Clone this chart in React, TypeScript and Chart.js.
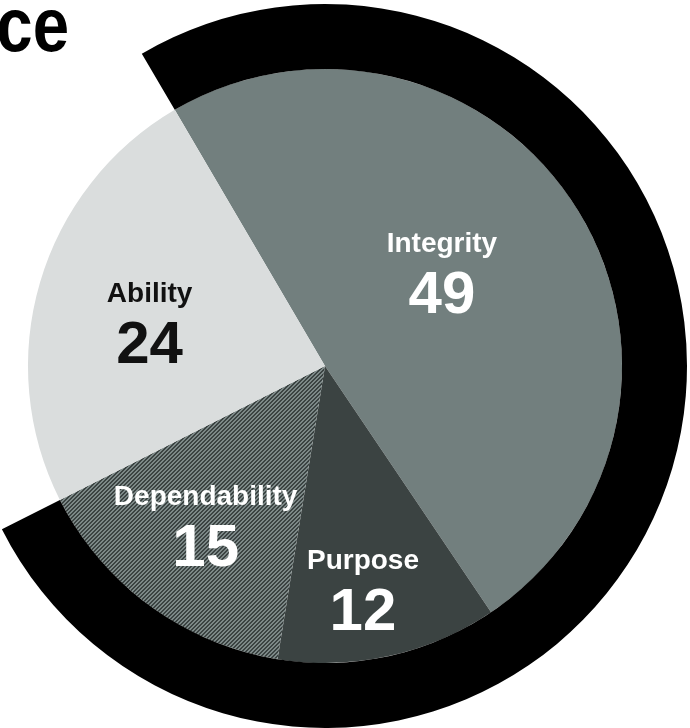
import React, { useEffect, useRef } from 'react';
import { Chart, registerables } from 'chart.js';

Chart.register(...registerables);

const titleText = 'ce';
const categories = ['Integrity', 'Purpose', 'Dependability', 'Ability'];
const values = [49, 12, 15, 24];
const ringCategories = ['Integrity + Purpose + Dependability', 'Ability'];
const ringValues = [values[0] + values[1] + values[2], values[3]];

const sliceColors = ['#727F7E', '#3B4342', 'pattern', '#DADDDD'];
const ringColors = ['#000000', 'rgba(0,0,0,0)'];
const labelColors = ['#FFFFFF', '#FFFFFF', '#FFFFFF', '#111111'];
const labelAngleFrac = [0.455, 0.558, 0.528, 0.49];
const labelRadiusFrac = [0.515, 0.744, 0.657, 0.613];

const FONT = '"Liberation Sans", Arial, Helvetica, sans-serif';

function makeStripePattern(ctx: CanvasRenderingContext2D): CanvasPattern | string {
  const c = document.createElement('canvas');
  c.width = 4;
  c.height = 4;
  const g = c.getContext('2d');
  if (!g) return '#5A6464';
  for (let y = 0; y < 4; y++) {
    for (let x = 0; x < 4; x++) {
      g.fillStyle = (x + y) % 4 < 2 ? '#3B4342' : '#7C8887';
      g.fillRect(x, y, 1, 1);
    }
  }
  return ctx.createPattern(c, 'repeat') || '#5A6464';
}

const labelPlugin = {
  id: 'sliceLabels',
  afterDatasetsDraw(chart: any) {
    const ctx: CanvasRenderingContext2D = chart.ctx;
    const meta = chart.getDatasetMeta(1);
    meta.data.forEach((arc: any, i: number) => {
      const { x, y, startAngle, endAngle, outerRadius } = arc.getProps(
        ['x', 'y', 'startAngle', 'endAngle', 'outerRadius'],
        true
      );
      const a = startAngle + (endAngle - startAngle) * labelAngleFrac[i];
      const r = outerRadius * labelRadiusFrac[i];
      const cx = x + Math.cos(a) * r;
      const cy = y + Math.sin(a) * r;
      ctx.save();
      ctx.fillStyle = labelColors[i];
      ctx.textAlign = 'center';
      ctx.textBaseline = 'alphabetic';
      ctx.font = `bold 28px ${FONT}`;
      ctx.fillText(categories[i], cx, cy - 15);
      ctx.font = `bold 60px ${FONT}`;
      ctx.fillText(String(values[i]), cx, cy + 46);
      ctx.restore();
    });
    // title fragment
    ctx.save();
    ctx.fillStyle = '#000000';
    ctx.font = `bold 76px ${FONT}`;
    ctx.textAlign = 'right';
    ctx.textBaseline = 'alphabetic';
    ctx.translate(69, 51);
    ctx.scale(0.86, 1);
    ctx.fillText(titleText, 0, 0);
    ctx.restore();
  },
};

export default function App() {
  const canvasRef = useRef<HTMLCanvasElement | null>(null);

  useEffect(() => {
    const canvas = canvasRef.current;
    if (!canvas) return;
    const ctx = canvas.getContext('2d');
    if (!ctx) return;
    const pattern = makeStripePattern(ctx);
    const bg = sliceColors.map((c) => (c === 'pattern' ? pattern : c));

    const chart = new Chart(canvas, {
      type: 'doughnut',
      data: {
        labels: categories,
        datasets: [
          {
            label: 'ring',
            data: ringValues,
            backgroundColor: ringColors,
            borderWidth: 0,
            hoverOffset: 0,
            weight: 65,
            radius: 362,
          } as any,
          {
            label: 'values',
            data: values,
            backgroundColor: bg as any,
            borderWidth: 0,
            hoverOffset: 0,
            weight: 297,
            radius: 362,
          } as any,
        ],
      },
      options: {
        responsive: false,
        animation: false,
        events: [],
        rotation: -30.4,
        cutout: 0,
        layout: { padding: { top: 4, right: 40, bottom: 0, left: 0 } },
        plugins: {
          legend: { display: false },
          tooltip: { enabled: false },
          title: { display: false },
        },
      } as any,
      plugins: [labelPlugin],
    });
    return () => chart.destroy();
  }, []);

  return (
    <div style={{ position: 'fixed', left: 0, top: 0, width: 690, height: 728, background: '#fff' }}>
      <canvas ref={canvasRef} width={690} height={728} style={{ display: 'block' }} />
    </div>
  );
}
